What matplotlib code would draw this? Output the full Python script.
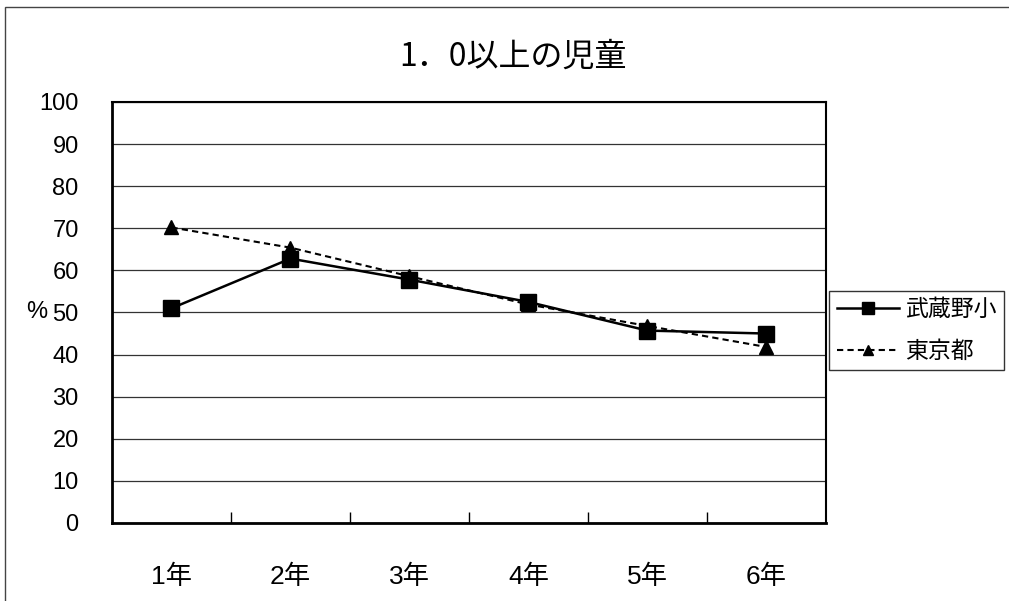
import numpy as np
import matplotlib.pyplot as plt
from matplotlib.patches import Rectangle

plt.rcParams['font.family'] = ['Liberation Sans', 'Noto Sans CJK JP', 'DejaVu Sans']

# データ
grades = ['1年', '2年', '3年', '4年', '5年', '6年']
musashino = [51.0, 62.8, 57.8, 52.5, 45.7, 45.0]
tokyo = [70.2, 65.4, 58.6, 51.9, 46.8, 41.8]
yticks = np.arange(0, 101, 10)

fig = plt.figure(figsize=(10.09, 6.01), dpi=100)
ax = fig.add_axes([0.111, 0.1298, 0.7076, 0.7005])

x = np.arange(len(grades))
ax.plot(x, musashino, color='black', lw=1.8, marker='s', markersize=11,
        label='武蔵野小')
ax.plot(x, tokyo, color='black', lw=1.5, ls=(0, (3, 2)), marker='^',
        markersize=10, label='東京都')

ax.set_xlim(-0.5, len(grades) - 0.5)
ax.set_ylim(0, 100)
ax.set_yticks(yticks)
ax.set_yticklabels([str(v) for v in yticks], fontsize=17)
ax.set_xticks(x)
ax.set_xticklabels(grades, fontsize=19)
ax.set_xticks(x[:-1] + 0.5, minor=True)
ax.tick_params(axis='x', which='major', length=0, pad=30)
ax.tick_params(axis='x', which='minor', direction='in', length=8, width=1)
ax.tick_params(axis='y', length=0, pad=24)

ax.grid(axis='y', color='#333333', lw=0.9)
ax.set_axisbelow(True)
for side in ['left', 'bottom']:
    ax.spines[side].set_linewidth(2)
for side in ['right', 'top']:
    ax.spines[side].set_linewidth(1.5)

ax.set_ylabel('%', fontsize=17, rotation=0, va='center')
ax.yaxis.set_label_coords(-0.105, 0.5)

fig.text(0.508, 0.905, '1．0以上の児童', fontsize=23, ha='center', va='center',
         family=['Noto Sans CJK JP', 'DejaVu Sans'])

leg = fig.legend(loc='upper left', bbox_to_anchor=(0.822, 0.516), fontsize=16.5,
                 handlelength=2.7, handletextpad=0.3, borderpad=0.32,
                 labelspacing=0.8, fancybox=False, edgecolor='black',
                 markerscale=0.75, borderaxespad=0)
leg.get_frame().set_linewidth(1)

# 外枠
fig.patches.append(Rectangle((5 / 1009, -0.05), 1.2, 1 - 7 / 601 + 0.05,
                             transform=fig.transFigure, fill=False,
                             edgecolor='#444444', lw=1))

fig.savefig('out.png', dpi=100)
